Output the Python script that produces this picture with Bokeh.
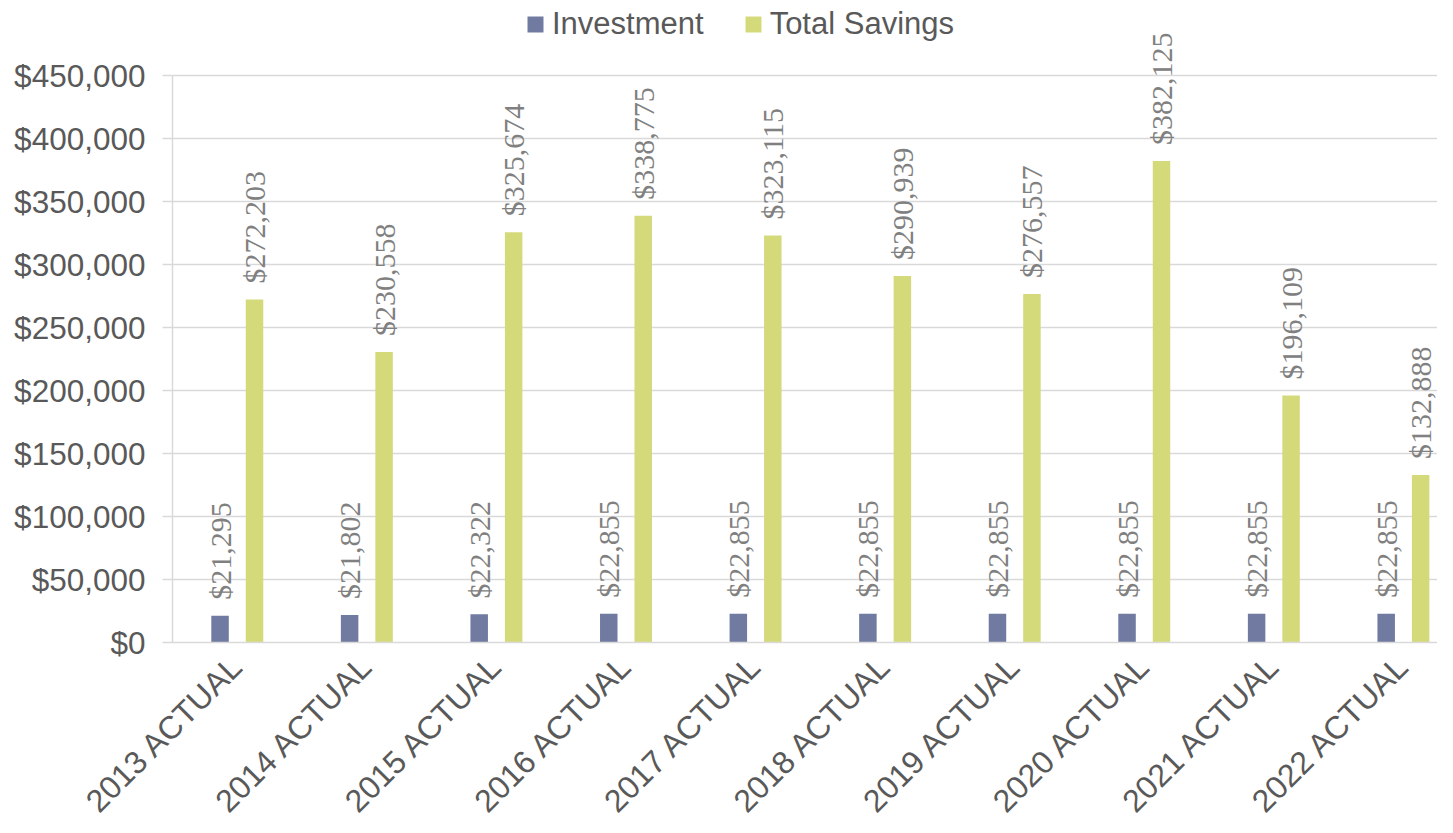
import math
from bokeh.plotting import figure
from bokeh.models import (ColumnDataSource, Range1d, FixedTicker, NumeralTickFormatter,
                          LabelSet, Legend, LegendItem)
from bokeh.embed import file_html
from bokeh.resources import INLINE

categories = ["2013 ACTUAL", "2014 ACTUAL", "2015 ACTUAL", "2016 ACTUAL", "2017 ACTUAL",
              "2018 ACTUAL", "2019 ACTUAL", "2020 ACTUAL", "2021 ACTUAL", "2022 ACTUAL"]
investment = [21295, 21802, 22322, 22855, 22855, 22855, 22855, 22855, 22855, 22855]
total_savings = [272203, 230558, 325674, 338775, 323115, 290939, 276557, 382125, 196109, 132888]
y_ticks = [0, 50000, 100000, 150000, 200000, 250000, 300000, 350000, 400000, 450000]
y_max = 450000

INV_COLOR = "#717AA1"
SAV_COLOR = "#D4DA7A"
FONT = "Liberation Sans"

left = 172
frame_w = 1437 - left
axis_px = 567          # pixels from $0 to $450,000
frame_h = 642          # frame reaches to the top of the canvas so labels are not clipped
cat_w = 129.57
bar_w = 0.135
off = 0.133

centers = [i + 0.5 for i in range(len(categories))]
inv_src = ColumnDataSource(dict(x=[c - off for c in centers], top=investment,
                                label=["${:,}".format(v) for v in investment]))
sav_src = ColumnDataSource(dict(x=[c + off for c in centers], top=total_savings,
                                label=["${:,}".format(v) for v in total_savings]))

p = figure(width=1437, height=817, frame_width=frame_w, frame_height=frame_h,
           min_border_left=left, min_border_right=0, min_border_top=0,
           min_border_bottom=817 - frame_h,
           x_range=Range1d(0, frame_w / cat_w), y_range=Range1d(0, y_max * frame_h / axis_px),
           output_backend="svg", toolbar_location=None, tools="")
p.outline_line_color = None
p.background_fill_color = "white"

r_inv = p.vbar(x="x", top="top", width=bar_w, source=inv_src, fill_color=INV_COLOR, line_color=None)
r_sav = p.vbar(x="x", top="top", width=bar_w, source=sav_src, fill_color=SAV_COLOR, line_color=None)

for src in (inv_src, sav_src):
    p.add_layout(LabelSet(x="x", y="top", text="label", source=src, angle=math.pi / 2,
                          text_align="left", text_baseline="middle", y_offset=16,
                          text_font=FONT, text_font_size="30px", text_color="#808080"))

# axes
p.xgrid.visible = False
p.ygrid.grid_line_color = "#D9D9D9"
p.ygrid.grid_line_width = 1.5
p.ygrid.ticker = FixedTicker(ticks=y_ticks)

ya = p.yaxis[0]
ya.ticker = FixedTicker(ticks=y_ticks)
ya.bounds = (0, y_max)
ya.formatter = NumeralTickFormatter(format="$0,0")
ya.axis_line_color = "#D9D9D9"
ya.axis_line_width = 1.5
ya.major_tick_line_color = "#D9D9D9"
ya.major_tick_line_width = 1.5
ya.major_tick_out = 10
ya.major_tick_in = 0
ya.minor_tick_line_color = None
ya.major_label_text_font = FONT
ya.major_label_text_font_size = "31.5px"
ya.major_label_text_color = "#595959"
ya.major_label_standoff = 17

xa = p.xaxis[0]
xa.ticker = FixedTicker(ticks=centers)
xa.major_label_overrides = {c: lab for c, lab in zip(centers, categories)}
xa.axis_line_color = "#D9D9D9"
xa.axis_line_width = 1.5
xa.major_tick_line_color = None
xa.minor_tick_line_color = None
xa.major_tick_out = 0
xa.major_tick_in = 0
xa.major_label_orientation = math.pi / 4
xa.major_label_text_font = FONT
xa.major_label_text_font_size = "32px"
xa.major_label_text_color = "#595959"
xa.major_label_standoff = 18

legend = Legend(items=[LegendItem(label="Investment", renderers=[r_inv]),
                       LegendItem(label="Total Savings", renderers=[r_sav])],
                orientation="horizontal", location=(353, 600),
                glyph_width=20, glyph_height=20, label_standoff=7, spacing=39,
                padding=0, margin=0, border_line_color=None, background_fill_alpha=0,
                label_text_font=FONT, label_text_font_size="31px", label_text_color="#595959")
p.add_layout(legend, "center")

open("out.html", "w").write(file_html(p, INLINE))
